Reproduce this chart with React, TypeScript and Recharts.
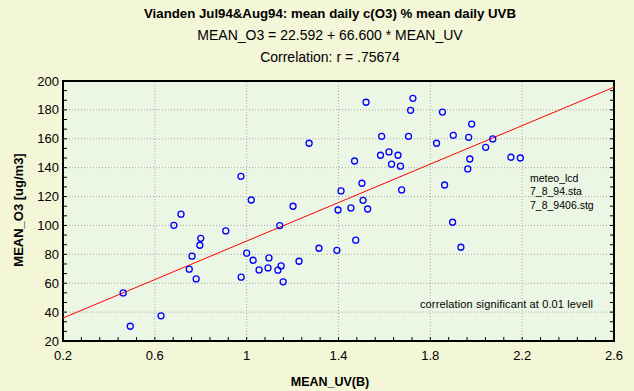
import React from 'react';
import { ScatterChart, Scatter, XAxis, YAxis, CartesianGrid, ReferenceLine, ReferenceArea } from 'recharts';

// mean daily UV(B), Jul94 & Aug94
const meanUV = [
  0.462, 0.493, 0.627, 0.683, 0.714, 0.75, 0.762, 0.78, 0.796, 0.8,
  0.909, 0.975, 0.976, 1.0, 1.02, 1.028, 1.054, 1.093, 1.097, 1.136,
  1.144, 1.15, 1.159, 1.202, 1.228, 1.272, 1.315, 1.393, 1.398, 1.411,
  1.454, 1.47, 1.475, 1.502, 1.507, 1.52, 1.527, 1.583, 1.588, 1.62,
  1.631, 1.659, 1.67, 1.675, 1.705, 1.714, 1.724, 1.827, 1.853, 1.862,
  1.897, 1.9, 1.933, 1.963, 1.967, 1.972, 1.98, 2.041, 2.072, 2.151,
  2.192,
];

// mean daily O3 [ug/m3]
const meanO3 = [
  53.3, 30.2, 37.4, 100.1, 107.8, 69.7, 78.7, 63.0, 86.3, 91.1,
  96.2, 134.0, 64.2, 80.8, 117.6, 75.9, 69.2, 70.6, 77.5, 69.0,
  99.9, 72.0, 61.0, 113.3, 75.2, 156.9, 84.2, 82.8, 110.7, 123.9,
  112.1, 144.6, 89.8, 129.2, 117.4, 185.3, 111.4, 148.6, 161.7, 150.9,
  142.4, 148.6, 141.0, 124.6, 161.7, 179.7, 188.0, 156.9, 178.5, 128.0,
  102.2, 162.4, 84.9, 139.1, 161.0, 146.0, 170.2, 154.1, 159.9, 147.2,
  146.7,
];

// regression from the title
const intercept = 22.592;
const slope = 66.6;

const xMajor = [0.2, 0.6, 1.0, 1.4, 1.8, 2.2, 2.6];
const xLabels = ['0.2', '0.6', '1', '1.4', '1.8', '2.2', '2.6'];
const yMajor = [20, 40, 60, 80, 100, 120, 140, 160, 180, 200];

const X_MIN = 0.2;
const X_MAX = 2.6;
const Y_MIN = 20;
const Y_MAX = 200;

const data = meanUV.map((x, i) => ({ x, y: meanO3[i] }));

// minor ticks: 5 per 0.4 on x, 3 per 20 on y
const xTicks: number[] = [];
for (let i = 0; i <= 30; i++) xTicks.push(+(X_MIN + i * 0.08).toFixed(4));
const yTicks: number[] = [];
for (let i = 0; i <= 27; i++) yTicks.push(+(Y_MIN + (i * 20) / 3).toFixed(4));

const font = '"Liberation Sans", Arial, sans-serif';

const isMajor = (v: number, list: number[]) => list.some((m) => Math.abs(m - v) < 1e-6);

const LeftTick = (props: any) => {
  const { x, y, payload } = props;
  const v = payload.value;
  return (
    <g>
      <line x1={x + 4} x2={x + 8} y1={y} y2={y} stroke="#000" />
      {isMajor(v, yMajor) && (
        <text x={x} y={y} dy={4.5} textAnchor="end" fontSize={13} fontFamily={font} fill="#000">
          {Math.round(v)}
        </text>
      )}
    </g>
  );
};

const RightTick = (props: any) => {
  const { x, y } = props;
  return <line x1={x} x2={x - 4} y1={y} y2={y} stroke="#000" />;
};

const BottomTick = (props: any) => {
  const { x, y, payload } = props;
  const v = payload.value;
  const idx = xMajor.findIndex((m) => Math.abs(m - v) < 1e-6);
  return (
    <g>
      <line x1={x} x2={x} y1={y} y2={y - 4} stroke="#000" />
      {idx >= 0 && (
        <text x={x} y={y + 19} textAnchor="middle" fontSize={13} fontFamily={font} fill="#000">
          {xLabels[idx]}
        </text>
      )}
    </g>
  );
};

const Dot = (props: any) => (
  <circle cx={props.cx} cy={props.cy} r={3} fill="none" stroke="#0000ff" strokeWidth={1.3} />
);

const App: React.FC = () => {
  return (
    <div style={{ position: 'absolute', left: 0, top: 0, width: 634, height: 391, background: '#f4f6d8' }}>
      <ScatterChart width={634} height={391} margin={{ top: 81, right: 0, bottom: 0, left: 0 }}>
        <CartesianGrid horizontal={false} vertical={false} fill="#ecf6e4" />
        <XAxis
          type="number"
          dataKey="x"
          domain={[X_MIN, X_MAX]}
          ticks={xTicks}
          interval={0}
          height={50}
          axisLine={false}
          tickLine={false}
          tickSize={0}
          tickMargin={0}
          tick={<BottomTick />}
          allowDataOverflow
        />
        <YAxis
          type="number"
          dataKey="y"
          domain={[Y_MIN, Y_MAX]}
          ticks={yTicks}
          interval={0}
          width={63}
          axisLine={false}
          tickLine={false}
          tickSize={0}
          tickMargin={4}
          tick={<LeftTick />}
          allowDataOverflow
        />
        <YAxis
          yAxisId="r"
          orientation="right"
          type="number"
          domain={[Y_MIN, Y_MAX]}
          ticks={yTicks}
          interval={0}
          width={20}
          axisLine={false}
          tickLine={false}
          tickSize={0}
          tickMargin={0}
          tick={<RightTick />}
          allowDataOverflow
        />
        {xMajor.slice(1, -1).map((v) => (
          <ReferenceLine key={'vx' + v} x={v} stroke="#a8a8a8" strokeDasharray="1 2" />
        ))}
        {yMajor.slice(1, -1).map((v) => (
          <ReferenceLine key={'hy' + v} y={v} stroke="#a8a8a8" strokeDasharray="1 2" />
        ))}
        <ReferenceLine
          segment={[
            { x: X_MIN, y: intercept + slope * X_MIN },
            { x: X_MAX, y: intercept + slope * X_MAX },
          ]}
          stroke="#ff0000"
          strokeWidth={1}
        />
        <Scatter data={data} shape={<Dot />} isAnimationActive={false} />
        <ReferenceArea x1={X_MIN} x2={X_MAX} y1={Y_MIN} y2={Y_MAX} fill="none" stroke="#000" strokeWidth={2} />
      </ScatterChart>
      <svg
        width={634}
        height={391}
        style={{ position: 'absolute', left: 0, top: 0, pointerEvents: 'none' }}
        fontFamily={font}
      >
        <text x={330} y={18} textAnchor="middle" fontSize={13} fontWeight="bold" textLength={372} lengthAdjust="spacingAndGlyphs">
          Vianden Jul94&amp;Aug94: mean daily c(O3) % mean daily UVB
        </text>
        <text x={330} y={40} textAnchor="middle" fontSize={14}>
          MEAN_O3 = 22.592 + 66.600 * MEAN_UV
        </text>
        <text x={330} y={62} textAnchor="middle" fontSize={14}>
          Correlation: r = .75674
        </text>
        <text x={330} y={386} textAnchor="middle" fontSize={12.5} fontWeight="bold">
          MEAN_UV(B)
        </text>
        <text
          x={0}
          y={0}
          transform="translate(23,210) rotate(-90)"
          textAnchor="middle"
          fontSize={13}
          fontWeight="bold"
        >
          MEAN_O3 [ug/m3]
        </text>
        <text x={530} y={182} fontSize={10.5}>meteo_lcd</text>
        <text x={530} y={195} fontSize={10.5}>7_8_94.sta</text>
        <text x={530} y={208.5} fontSize={10.5}>7_8_9406.stg</text>
        <text x={420} y={308} fontSize={11} textLength={173} lengthAdjust="spacing">
          correlation significant at 0.01 levell
        </text>
      </svg>
    </div>
  );
};

export default App;
